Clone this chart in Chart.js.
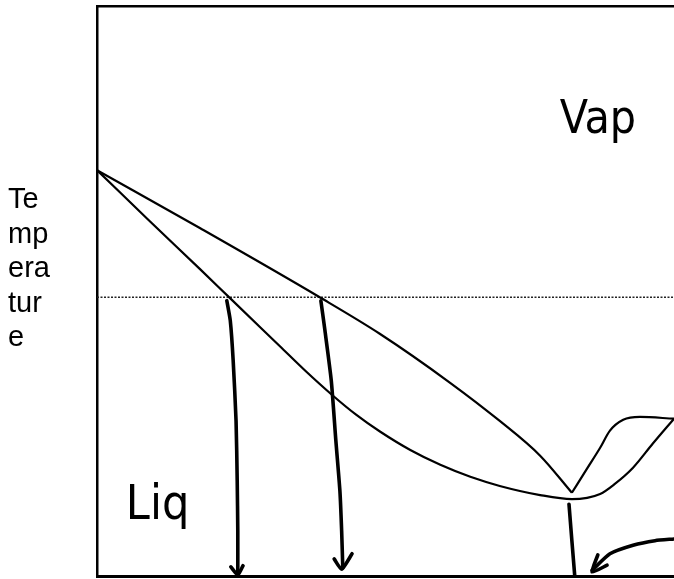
<!DOCTYPE html>
<html>
<head>
<meta charset="utf-8">
<script src="https://cdn.jsdelivr.net/npm/chart.js@4"></script>
<style>
  body { margin: 0; background: #fff; }
  #wrap { width: 674px; height: 579px; }
</style>
</head>
<body>
<div id="wrap"><canvas id="myChart"></canvas></div>
<script>
// composition (0-100 across the box) and temperature (0-100 up the box)
var dewX = [0, 17.9, 38.6, 49.0, 61.2, 69.8, 76.8, 82.3]
var dewY = [71.2, 61.0, 48.9, 42.5, 33.9, 27.2, 21.1, 14.6]

var bubbleX = [0, 9.2, 17.9, 23.1, 31.7, 36.1, 40.7, 44.9, 49.1, 54.3, 59.5, 64.7, 69.8, 76.8, 82.3, 87.2, 89.8, 92.9, 96.3, 100]
var bubbleY = [71.2, 62.2, 53.8, 48.7, 40.3, 36.0, 31.8, 28.3, 25.3, 22.1, 19.5, 17.4, 15.8, 14.2, 13.5, 14.4, 16.2, 19.0, 23.2, 27.6]

var lobeX = [82.3, 84.9, 87.2, 88.9, 91.2, 94.1, 100]
var lobeY = [14.6, 18.8, 22.5, 25.5, 27.4, 27.9, 27.6]

var tempLine = 48.9

var arrow1X = [22.5, 23.1, 23.6, 24.1, 24.3, 24.4, 24.4]
var arrow1Y = [48.3, 44.8, 37.8, 27.2, 16.7, 7.9, 0.3]
var head1X = [23.2, 24.4, 25.3]
var head1Y = [1.6, 0.2, 1.8]

var arrow2X = [38.8, 39.5, 40.6, 41.4, 42.1, 42.4, 42.6]
var arrow2Y = [48.3, 43.1, 34.3, 23.7, 14.9, 7.9, 1.4]
var head2X = [41.1, 42.4, 44.2]
var head2Y = [3.0, 1.2, 3.9]

var line3X = [81.8, 82.3, 82.8]
var line3Y = [12.6, 6.2, 0]

var curveX = [100, 96.7, 92.9, 88.9, 85.8]
var curveY = [6.5, 6.2, 5.4, 3.9, 1.0]
var head3X = [86.8, 85.8, 88.4]
var head3Y = [3.7, 0.7, 1.9]

function pts(xs, ys) {
    var out = []
    for (var i = 0; i < xs.length; i++) {
        out.push({ x: xs[i], y: ys[i] })
    }
    return out
}

function thin(xs, ys) {
    return { data: pts(xs, ys), showLine: true, borderColor: '#000', borderWidth: 2.2, pointRadius: 0, cubicInterpolationMode: 'monotone' }
}

function thick(xs, ys) {
    return { data: pts(xs, ys), showLine: true, borderColor: '#000', borderWidth: 3.6, pointRadius: 0, tension: 0.2, borderCapStyle: 'round', borderJoinStyle: 'round' }
}

var labelLines = ['Te', 'mp', 'era', 'tur', 'e']

var textPlugin = {
    id: 'texts',
    afterDraw: function (chart) {
        var ctx = chart.ctx
        var xs = chart.scales.x
        var ys = chart.scales.y
        ctx.save()
        ctx.fillStyle = '#000'
        ctx.textBaseline = 'alphabetic'
        ctx.font = '29px "Liberation Sans", Arial, sans-serif'
        for (var i = 0; i < labelLines.length; i++) {
            ctx.fillText(labelLines[i], 8, 208 + i * 34.6)
        }
        ctx.font = '46px "DejaVu Sans Condensed", "DejaVu Sans", sans-serif'
        ctx.fillText('Vap', xs.getPixelForValue(80.2), ys.getPixelForValue(77.8))
        ctx.font = '48px "DejaVu Sans Condensed", "DejaVu Sans", sans-serif'
        ctx.fillText('Liq', xs.getPixelForValue(5.0), ys.getPixelForValue(10.0))
        ctx.restore()
    }
}

var ctx = document.getElementById('myChart').getContext('2d')
var myChart = new Chart(ctx, {
    type: 'scatter',
    data: {
        datasets: [
            thin(dewX, dewY),
            thin(bubbleX, bubbleY),
            thin(lobeX, lobeY),
            { data: pts([0, 100], [tempLine, tempLine]), showLine: true, borderColor: '#222', borderWidth: 1.6, borderDash: [2, 1.5], pointRadius: 0 },
            thick(arrow1X, arrow1Y),
            thick(head1X, head1Y),
            thick(arrow2X, arrow2Y),
            thick(head2X, head2Y),
            thick(line3X, line3Y),
            thick(curveX, curveY),
            thick(head3X, head3Y)
        ]
    },
    options: {
        responsive: true,
        maintainAspectRatio: false,
        animation: false,
        layout: { padding: { left: 97, top: 6, right: 0, bottom: 3 } },
        plugins: {
            legend: { display: false },
            tooltip: { enabled: false }
        },
        scales: {
            x: {
                type: 'linear', min: 0, max: 100,
                ticks: { display: false },
                grid: { display: false, drawTicks: false },
                border: { display: true, color: '#000', width: 3 }
            },
            xTop: {
                type: 'linear', position: 'top', min: 0, max: 100,
                ticks: { display: false },
                grid: { display: false, drawTicks: false },
                border: { display: true, color: '#000', width: 2.5 }
            },
            y: {
                type: 'linear', min: 0, max: 100,
                ticks: { display: false },
                grid: { display: false, drawTicks: false },
                border: { display: true, color: '#000', width: 2.5 }
            }
        }
    },
    plugins: [textPlugin]
})
</script>
</body>
</html>
